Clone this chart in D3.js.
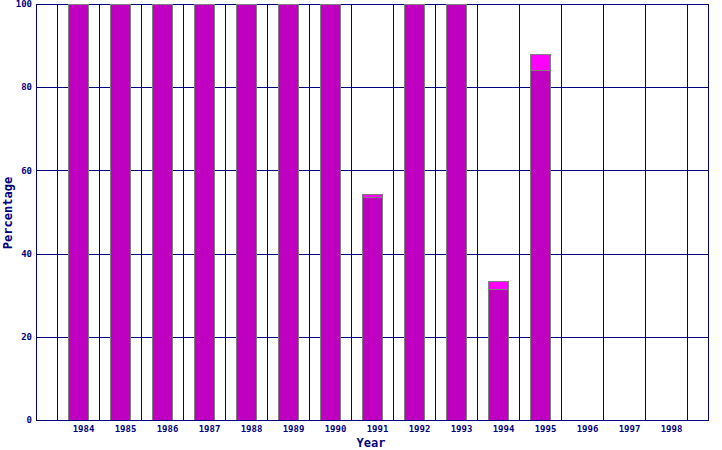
<!DOCTYPE html>
<html><head><meta charset="utf-8">
<script src="https://cdn.jsdelivr.net/npm/d3@7"></script>
<style>body{margin:0;background:#fff;}svg{display:block;}</style>
</head><body>
<svg id="c" width="722" height="450"></svg>
<script>
const years = ["1984","1985","1986","1987","1988","1989","1990","1991","1992","1993","1994","1995","1996","1997","1998"];
const lowerVals = [100,100,100,100,100,100,100,53.5,100,100,31.4,84.1,0,0,0];
const upperVals = [0,0,0,0,0,0,0,0.8,0,0,2.0,4.0,0,0,0];
const yTicks = [0,20,40,60,80,100];

(function(){
const navy = "#000080";
const svg = d3.select("#c");
const pL = 36, pR = 708, pT = 4, pB = 420;
const x = d3.scaleBand().domain(years).range([pL, pR]).paddingInner(0).paddingOuter(0.5);
const y = d3.scaleLinear().domain([0,100]).range([pB, pT]);

// horizontal grid
svg.append("g").selectAll("line").data(yTicks).join("line")
  .attr("x1", pL).attr("x2", pR)
  .attr("y1", d => Math.round(y(d)) + 0.5).attr("y2", d => Math.round(y(d)) + 0.5)
  .attr("stroke", navy).attr("stroke-width", 1);
// vertical grid at band boundaries
const bounds = years.map(d => x(d)).concat([x(years[years.length-1]) + x.bandwidth()]);
svg.append("g").selectAll("line").data(bounds).join("line")
  .attr("x1", d => Math.round(d) + 0.5).attr("x2", d => Math.round(d) + 0.5)
  .attr("y1", pT).attr("y2", pB)
  .attr("stroke", navy).attr("stroke-width", 1);
// border
svg.append("rect").attr("x", pL + 0.5).attr("y", pT + 0.5)
  .attr("width", pR - pL).attr("height", pB - pT)
  .attr("fill", "none").attr("stroke", navy).attr("stroke-width", 1);

const bw = 20;
const bx = d => Math.round(x(d) + x.bandwidth()/2 - bw/2) + 0.5;
const data = years.map((yr, i) => ({yr, lo: lowerVals[i], up: upperVals[i]}));
const g = svg.append("g");
// upper segment
g.selectAll("rect.up").data(data.filter(d => d.up > 0)).join("rect")
  .attr("class","up")
  .attr("x", d => bx(d.yr)).attr("width", bw)
  .attr("y", d => Math.round(y(d.lo + d.up)) + 0.5)
  .attr("height", d => Math.round(y(d.lo)) - Math.round(y(d.lo + d.up)))
  .attr("fill", "#ff00ff").attr("stroke", "#808080").attr("stroke-width", 1);
// lower segment
g.selectAll("rect.lo").data(data.filter(d => d.lo > 0)).join("rect")
  .attr("class","lo")
  .attr("x", d => bx(d.yr)).attr("width", bw)
  .attr("y", d => Math.round(y(d.lo)) + 0.5)
  .attr("height", d => pB - Math.round(y(d.lo)))
  .attr("fill", "#c000c0").attr("stroke", "#808080").attr("stroke-width", 1);

// axes lines redrawn on top
svg.append("line").attr("x1", pL + 0.5).attr("x2", pL + 0.5).attr("y1", pT).attr("y2", pB + 1).attr("stroke", navy);
svg.append("line").attr("x1", pL).attr("x2", pR + 1).attr("y1", pB + 0.5).attr("y2", pB + 0.5).attr("stroke", navy);

const font = "'DejaVu Sans Mono', monospace";
// y tick labels
svg.append("g").selectAll("text").data(yTicks).join("text")
  .attr("x", 32).attr("y", d => y(d)).attr("dy", "0.35em")
  .attr("text-anchor", "end").attr("fill", navy)
  .attr("font-family", font).attr("font-size", 9).attr("font-weight", "bold")
  .text(d => d);
// x tick labels
svg.append("g").selectAll("text").data(years).join("text")
  .attr("x", d => x(d) + x.bandwidth()/2 + 5.5).attr("y", 432)
  .attr("text-anchor", "middle").attr("fill", navy)
  .attr("font-family", font).attr("font-size", 9).attr("font-weight", "bold")
  .text(d => d);
// axis titles
svg.append("text").attr("x", 371).attr("y", 447).attr("text-anchor", "middle")
  .attr("fill", navy).attr("font-family", font).attr("font-size", 12).attr("font-weight", "bold")
  .text("Year");
svg.append("text").attr("transform", "translate(12,213) rotate(-90)").attr("text-anchor", "middle")
  .attr("fill", navy).attr("font-family", font).attr("font-size", 12).attr("font-weight", "bold")
  .text("Percentage");
})();
</script>
</body></html>
